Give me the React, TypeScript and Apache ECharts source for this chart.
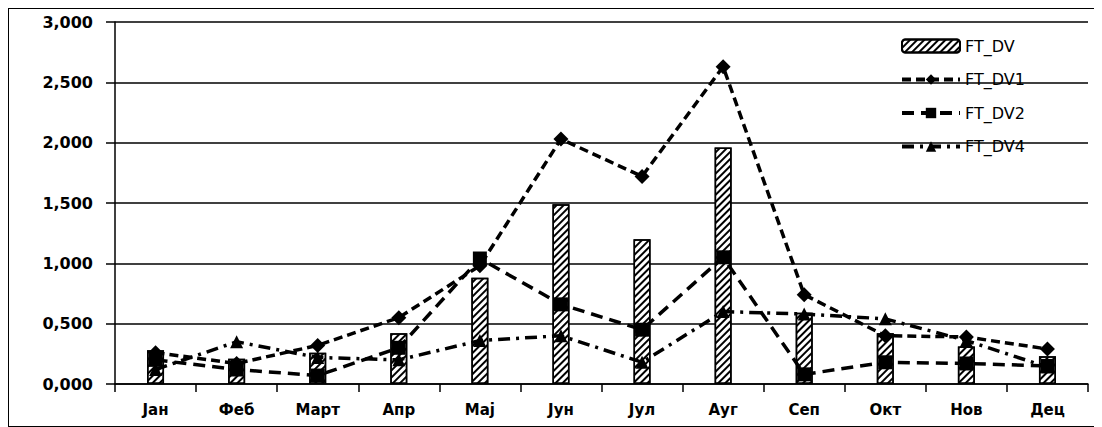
import React, { useEffect, useRef } from "react";
import * as echarts from "echarts";

const months = ["Јан", "Феб", "Март", "Апр", "Мај", "Јун", "Јул", "Ауг", "Сеп", "Окт", "Нов", "Дец"];
const ftDv = [0.28, 0.21, 0.26, 0.42, 0.88, 1.49, 1.2, 1.96, 0.59, 0.42, 0.31, 0.23];
const ftDv1 = [0.26, 0.17, 0.32, 0.55, 0.98, 2.03, 1.72, 2.63, 0.74, 0.4, 0.39, 0.29];
const ftDv2 = [0.2, 0.12, 0.07, 0.3, 1.04, 0.66, 0.45, 1.05, 0.08, 0.18, 0.17, 0.15];
const ftDv4 = [0.12, 0.35, 0.22, 0.2, 0.36, 0.4, 0.18, 0.6, 0.58, 0.54, 0.36, 0.14];
const yMin = 0;
const yMax = 3;
const yStep = 0.5;

const FONT = "DejaVu Sans";

export default function App() {
  const ref = useRef<HTMLDivElement>(null);
  useEffect(() => {
    if (!ref.current) return;
    const chart = echarts.init(ref.current, undefined, { renderer: "svg" });
    const lineCommon = {
      type: "line" as const,
      showSymbol: true,
      itemStyle: { color: "#000" },
      z: 3,
    };
    chart.setOption({
      animation: false,
      backgroundColor: "#fff",
      textStyle: { fontFamily: FONT, color: "#000" },
      grid: { left: 106, right: 13, top: 13, bottom: 42 },
      legend: {
        orient: "vertical",
        left: 886,
        top: 24,
        itemWidth: 58,
        itemHeight: 13,
        itemGap: 17.5,
        lineStyle: { width: 4 },
        textStyle: { fontFamily: FONT, fontSize: 16, color: "#000" },
        data: ["FT_DV", "FT_DV1", "FT_DV2", "FT_DV4"],
      },
      xAxis: {
        type: "category",
        data: months,
        boundaryGap: true,
        axisLine: { lineStyle: { color: "#000", width: 1.5 } },
        axisTick: { show: true, length: 8, lineStyle: { color: "#000", width: 1.5 } },
        axisLabel: { margin: 18, fontFamily: FONT, fontSize: 15, fontWeight: "bold", color: "#000" },
      },
      yAxis: {
        type: "value",
        min: yMin,
        max: yMax,
        interval: yStep,
        axisLine: { show: true, lineStyle: { color: "#000", width: 1.5 } },
        axisTick: { show: true, length: 9, lineStyle: { color: "#000", width: 1.5 } },
        splitLine: { lineStyle: { color: "#000", width: 1.5 } },
        axisLabel: {
          margin: 22,
          fontFamily: FONT,
          fontSize: 16,
          fontWeight: "bold",
          color: "#000",
          formatter: (v: number) => v.toFixed(3).replace(".", ","),
        },
      },
      series: [
        {
          name: "FT_DV",
          type: "bar",
          data: ftDv,
          barWidth: 17,
          z: 2,
          itemStyle: {
            color: "#fff",
            borderColor: "#000",
            borderWidth: 1.5,
            decal: {
              symbol: "rect",
              symbolSize: 1,
              color: "#000",
              backgroundColor: "#fff",
              dashArrayX: [1, 0],
              dashArrayY: [1.6, 2.4],
              rotation: -Math.PI / 4,
            },
          },
        },
        {
          ...lineCommon,
          name: "FT_DV1",
          data: ftDv1,
          symbol: "diamond",
          symbolSize: 15,
          lineStyle: { color: "#000", width: 3.5, type: [9, 5] },
        },
        {
          ...lineCommon,
          name: "FT_DV2",
          data: ftDv2,
          symbol: "rect",
          symbolSize: 14,
          lineStyle: { color: "#000", width: 3.5, type: [12, 7] },
        },
        {
          ...lineCommon,
          name: "FT_DV4",
          data: ftDv4,
          symbol: "triangle",
          symbolSize: 13,
          lineStyle: { color: "#000", width: 3.5, type: [12, 6, 3, 6] },
        },
      ],
    });
    return () => chart.dispose();
  }, []);
  return (
    <div
      ref={ref}
      style={{ width: 1092, height: 417, border: "1px solid #000", background: "#fff" }}
    />
  );
}
